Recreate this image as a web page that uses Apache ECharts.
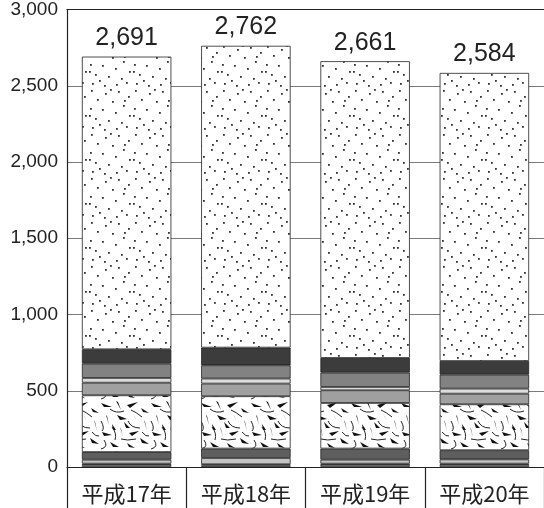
<!DOCTYPE html>
<html><head><meta charset="utf-8">
<script src="https://cdn.jsdelivr.net/npm/echarts@6/dist/echarts.min.js"></script>
<style>html,body{margin:0;padding:0;background:#fff}#c{width:544px;height:508px}</style>
</head><body><div id="c"></div>
<script>
const categories = ['平成17年', '平成18年', '平成19年', '平成20年'];
const yTicks = [0, 500, 1000, 1500, 2000, 2500, 3000];
// stacked segments, bottom to top
const segA      = [14, 10, 14, 14];
const segB      = [8, 8, 8, 8];
const segC      = [26, 41, 26, 28];
const segDark2  = [50, 62, 73, 60];
const segShard  = [372, 343, 299, 301];
const segGray   = [83, 83, 83, 70];
const segLight  = [31, 33, 22, 33];
const segMid    = [94, 87, 94, 92];
const segDark   = [94, 116, 96, 89];
const segDotted = [1919, 1979, 1946, 1889];

function dotTile() {
  const c = document.createElement('canvas'); c.width = 44; c.height = 44;
  const g = c.getContext('2d'); g.fillStyle = '#fff'; g.fillRect(0, 0, 44, 44);
  g.fillStyle = '#333';
  const pts = [[3,2],[17,5],[30,3],[40,8],[9,11],[24,13],[35,17],[2,20],[14,21],[27,24],
               [41,27],[7,30],[20,32],[33,34],[4,39],[16,41],[28,40],[38,38],[22,1],[11,36],[36,12],[1,27]];
  pts.forEach(p => g.fillRect(p[0], p[1], 1.8, 1.8));
  return c;
}
function shardTile() {
  const c = document.createElement('canvas'); c.width = 50; c.height = 50;
  const g = c.getContext('2d'); g.fillStyle = '#fff'; g.fillRect(0, 0, 50, 50);
  g.fillStyle = '#111'; g.strokeStyle = '#222'; g.lineWidth = 1;
  const tris = [
    [[1,3],[12,7],[4,7]], [[16,1],[21,10],[18,2]], [[27,5],[38,2],[30,8]], [[41,8],[49,13],[43,12]],
    [[6,15],[9,25],[7,16]], [[17,15],[27,19],[20,20]], [[33,14],[38,23],[34,16]], [[44,20],[47,31],[45,22]],
    [[2,32],[12,35],[4,36]], [[20,27],[23,37],[21,29]], [[29,33],[39,31],[32,36]], [[10,42],[19,47],[13,47]],
    [[27,43],[35,48],[29,47]], [[40,38],[49,44],[42,43]], [[24,22],[30,28],[26,28]], [[12,24],[16,30],[13,30]]];
  tris.forEach(t => { g.beginPath(); g.moveTo(t[0][0], t[0][1]); g.lineTo(t[1][0], t[1][1]); g.lineTo(t[2][0], t[2][1]); g.closePath(); g.fill(); });
  const lines = [[[10,9],[16,14],[24,11]],[[31,10],[36,12],[42,17]],[[1,21],[5,28],[2,31]],[[12,27],[17,33],[15,40]],
    [[28,21],[31,28],[40,28]],[[4,40],[9,47],[1,49]],[[21,39],[27,41],[36,39]],[[42,32],[46,37],[49,36]]];
  lines.forEach(l => { g.beginPath(); g.moveTo(l[0][0], l[0][1]); g.quadraticCurveTo(l[1][0], l[1][1], l[2][0], l[2][1]); g.stroke(); });
  return c;
}
const dotFill = {image: dotTile(), repeat: 'repeat'};
const shardFill = {image: shardTile(), repeat: 'repeat'};

const stackDefs = [
  ['A', segA, '#bdbdbd'], ['B', segB, '#8a8a8a'], ['C', segC, '#c4c4c4'],
  ['D', segDark2, '#5e5e5e'], ['E', segShard, shardFill], ['F', segGray, '#a0a0a0'],
  ['G', segLight, '#dcdcdc'], ['H', segMid, '#828282'], ['I', segDark, '#3c3c3c'],
  ['J', segDotted, dotFill]
];
const series = stackDefs.map((d, i) => ({
  name: d[0], type: 'bar', stack: 'total', data: d[1], barWidth: '75%',
  itemStyle: {color: d[2], borderColor: '#222', borderWidth: 0.8},
  silent: true,
  label: i === stackDefs.length - 1 ? {
    show: true, position: 'top', distance: 6, color: '#222', fontSize: 25,
    fontFamily: 'Liberation Sans, Arial, sans-serif',
    formatter: p => stackDefs.reduce((s, dd) => s + dd[1][p.dataIndex], 0).toLocaleString('en-US')
  } : {show: false}
}));

const chart = echarts.init(document.getElementById('c'));
chart.setOption({
  animation: false,
  grid: {left: 67, right: -5, top: 9, bottom: 41},
  xAxis: [{
    type: 'category', data: categories,
    axisLine: {show: true, lineStyle: {color: '#222', width: 1.2}},
    axisTick: {show: true, length: 41, interval: 0, lineStyle: {color: '#222', width: 1.2}},
    axisLabel: {color: '#222', fontSize: 22, margin: 16, fontFamily: 'Noto Sans CJK JP, sans-serif'}
  }, {
    type: 'category', data: categories, position: 'top',
    axisLine: {show: true, lineStyle: {color: '#222', width: 1.2}},
    axisTick: {show: false}, axisLabel: {show: false}
  }],
  yAxis: {
    type: 'value', min: yTicks[0], max: yTicks[yTicks.length - 1], interval: 500,
    axisLine: {show: true, lineStyle: {color: '#222', width: 1.2}},
    axisTick: {show: false},
    axisLabel: {color: '#222', fontSize: 19, margin: 9, fontFamily: 'Liberation Sans, Arial, sans-serif',
      formatter: v => v.toLocaleString('en-US')},
    splitLine: {show: true, lineStyle: {color: '#7a7a7a', width: 1}}
  },
  series: series
});
</script></body></html>
